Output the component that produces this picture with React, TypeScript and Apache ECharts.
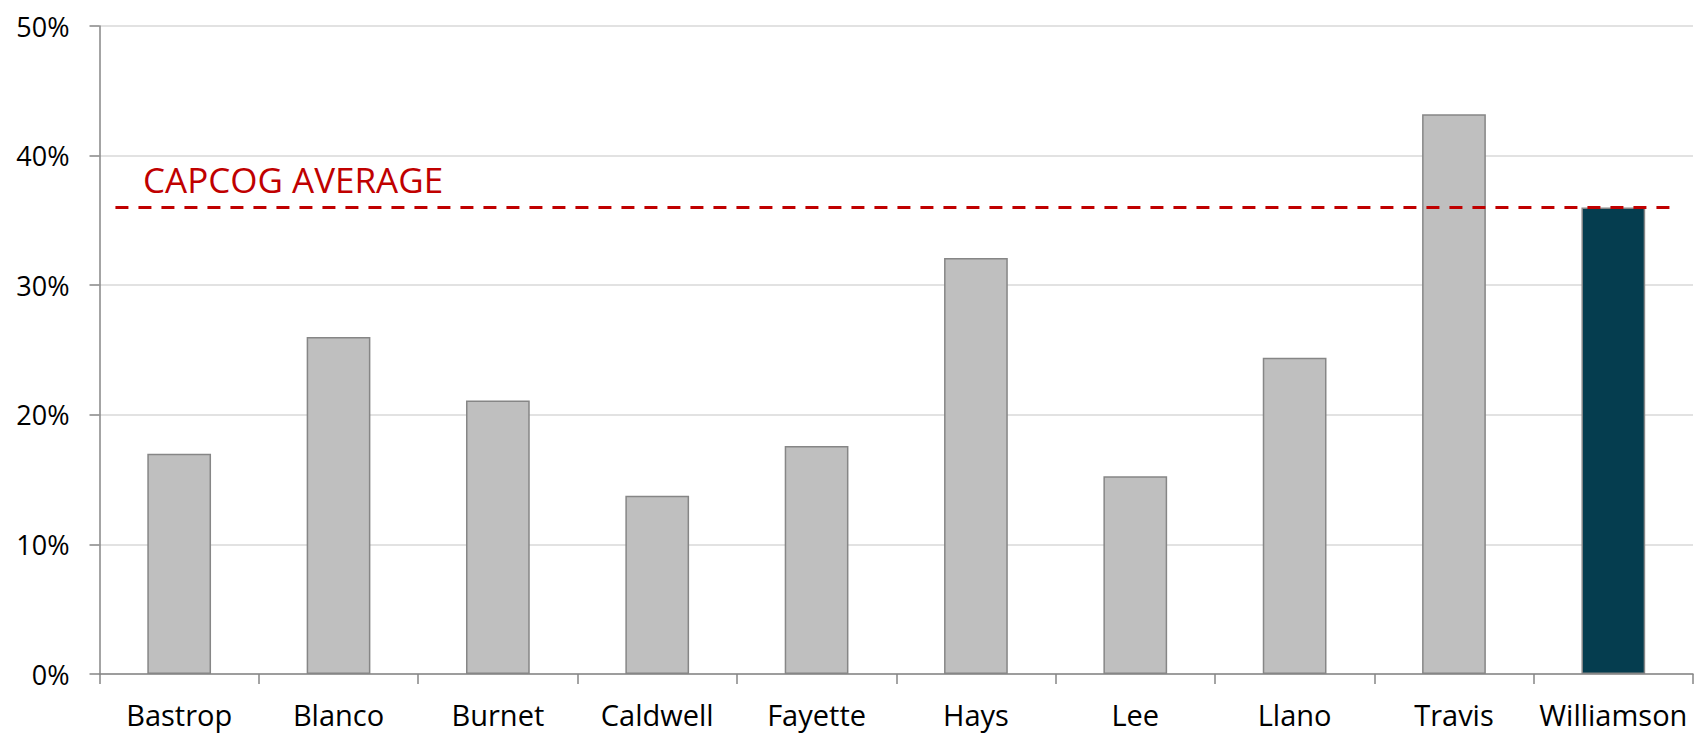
import React, { useEffect, useRef } from "react";
import * as echarts from "echarts";

// Share of residents by county, CAPCOG region
const counties = ["Bastrop", "Blanco", "Burnet", "Caldwell", "Fayette", "Hays", "Lee", "Llano", "Travis", "Williamson"];
const shares = [17.0, 26.0, 21.1, 13.75, 17.6, 32.1, 15.25, 24.4, 43.2, 36.0];
const highlighted = "Williamson";
const capcogAverage = 36.0;
const averageSpan = [-0.4, 9.36];
const yTicks = [0, 10, 20, 30, 40, 50];

const FONT = "'Open Sans', 'Noto Sans', sans-serif";

export default function App() {
  const ref = useRef<HTMLDivElement>(null);

  useEffect(() => {
    if (!ref.current) return;
    const chart = echarts.init(ref.current, null, { renderer: "svg" });
    chart.setOption({
      animation: false,
      backgroundColor: "#ffffff",
      grid: { left: 99.5, right: 1, top: 26, bottom: 60, containLabel: false },
      xAxis: [
        {
          type: "category",
          data: counties,
          boundaryGap: true,
          axisLine: { onZero: false, lineStyle: { color: "#868686", width: 1.5 } },
          axisTick: { show: true, alignWithLabel: false, length: 10, lineStyle: { color: "#868686", width: 1.5 } },
          axisLabel: { color: "#000", fontFamily: FONT, fontSize: 29, margin: 26, interval: 0 },
        },
        {
          // hidden numeric axis used to place the average line across categories
          type: "value",
          min: -0.5,
          max: 9.5,
          show: false,
        },
      ],
      yAxis: {
        type: "value",
        min: yTicks[0],
        max: yTicks[yTicks.length - 1],
        interval: 10,
        axisLine: { show: true, onZero: false, lineStyle: { color: "#868686", width: 1.5 } },
        axisTick: { show: true, length: 10, lineStyle: { color: "#868686", width: 1.5 } },
        splitLine: { lineStyle: { color: "#D9D9D9", width: 1.5 } },
        axisLabel: {
          color: "#000",
          fontFamily: FONT,
          fontSize: 27,
          margin: 30,
          formatter: (v: number) => `${v}%`,
        },
      },
      series: [
        {
          type: "bar",
          barWidth: "40%",
          data: counties.map((c, i) => ({
            value: shares[i],
            itemStyle: {
              color: c === highlighted ? "#053D4F" : "#BFBFBF",
              borderColor: "#868686",
              borderWidth: 1.5,
            },
          })),
        },
        {
          type: "line",
          xAxisIndex: 1,
          data: averageSpan.map((x) => [x, capcogAverage]),
          symbol: "none",
          lineStyle: { color: "#C00000", width: 3, type: [13, 10] },
          z: 5,
        },
      ],
      graphic: [
        {
          type: "text",
          left: 143,
          top: 162,
          style: {
            text: "CAPCOG AVERAGE",
            fill: "#C00000",
            font: `35px ${FONT}`,
          },
        },
      ],
    });
    return () => chart.dispose();
  }, []);

  return (
    <div
      ref={ref}
      style={{ position: "fixed", left: 0, top: 0, width: 1694, height: 734 }}
    />
  );
}
